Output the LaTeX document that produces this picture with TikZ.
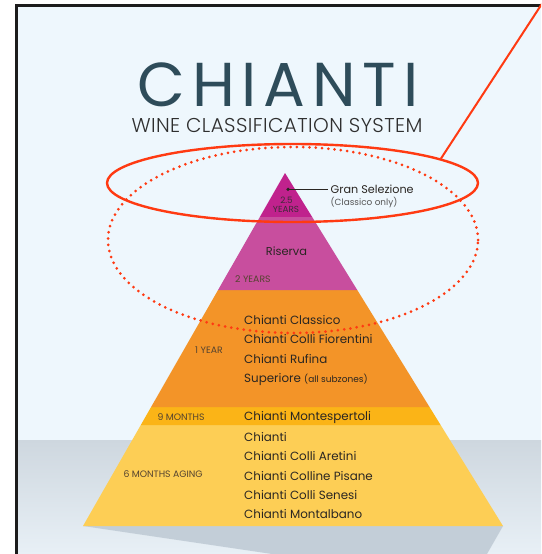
\documentclass[tikz,border=0pt]{standalone}
\usepackage{fontspec}
\setmainfont{Poppins}
\newfontfamily\poplight{Poppins Light}
\usetikzlibrary{calc}
\definecolor{bgblue}{HTML}{EEF7FD}
\definecolor{frame}{HTML}{1C1C1C}
\definecolor{titlecol}{HTML}{2E4C5A}
\definecolor{subcol}{HTML}{2F2F2F}
\definecolor{magdark}{HTML}{C0228D}
\definecolor{maglight}{HTML}{C84E9E}
\definecolor{orangec}{HTML}{F39428}
\definecolor{amber}{HTML}{FBB417}
\definecolor{yellowc}{HTML}{FDCE55}
\definecolor{graytop}{HTML}{CED7DF}
\definecolor{graybot}{HTML}{E8F0F6}
\definecolor{shadowc}{HTML}{C3CED8}
\definecolor{itemcol}{HTML}{2A2622}
\definecolor{agecol}{HTML}{54432F}
\definecolor{topcol}{HTML}{3E2A38}
\definecolor{notecol}{HTML}{555555}
\definecolor{redc}{HTML}{FF3A12}
\tikzset{
  item/.style={anchor=base west, inner sep=0pt, text=itemcol, font=\fontsize{11.9}{12}\selectfont},
  agelab/.style={anchor=base west, inner sep=0pt, text=agecol, font=\fontsize{9.3}{9}\selectfont},
  centerlab/.style={anchor=base, inner sep=0pt, text=itemcol},
  redsolid/.style={draw=redc, line width=2.4pt},
  reddots/.style={draw=redc, line width=3pt, line cap=round, dash pattern=on 0pt off 6.3pt},
}
\begin{document}
\begin{tikzpicture}[x=1pt,y=-1pt]
\useasboundingbox (0,0) rectangle (541,554);
\clip (0,0) rectangle (541,554);
% background
\fill[white] (0,0) rectangle (541,554);
\fill[bgblue] (18,7) rectangle (541,554);
\shade[top color=graytop, bottom color=graybot] (18,440) rectangle (541,554);
% frame
\draw[frame, line width=3pt] (16.5,554) -- (16.5,5.5) -- (541,5.5);
% shadow
\fill[shadowc] (83,526) -- (503,526) -- (487,554) -- (272,554) -- cycle;
% pyramid bands: apex (285,173), base (83,526)-(503,526)
\coordinate (apex) at (285,173);
\coordinate (bl) at (83,526);
\coordinate (br) at (503,526);
\fill[yellowc] ($(apex)!{(425-173)/353}!(bl)$) -- ($(apex)!{(425-173)/353}!(br)$) -- (br) -- (bl) -- cycle;
\fill[amber] ($(apex)!{(407-173)/353}!(bl)$) -- ($(apex)!{(407-173)/353}!(br)$) -- ($(apex)!{(425-173)/353}!(br)$) -- ($(apex)!{(425-173)/353}!(bl)$) -- cycle;
\fill[orangec] ($(apex)!{(290-173)/353}!(bl)$) -- ($(apex)!{(290-173)/353}!(br)$) -- ($(apex)!{(407-173)/353}!(br)$) -- ($(apex)!{(407-173)/353}!(bl)$) -- cycle;
\fill[maglight] ($(apex)!{(217-173)/353}!(bl)$) -- ($(apex)!{(217-173)/353}!(br)$) -- ($(apex)!{(290-173)/353}!(br)$) -- ($(apex)!{(290-173)/353}!(bl)$) -- cycle;
\fill[magdark] (apex) -- ($(apex)!{(217-173)/353}!(br)$) -- ($(apex)!{(217-173)/353}!(bl)$) -- cycle;
% title
\node[anchor=base, inner sep=0pt, text=titlecol, font=\fontsize{62}{62}\selectfont\addfontfeature{LetterSpace=11}] (title) at (278,106) {CHIANTI};
\node[anchor=base, inner sep=0pt, text=subcol, font=\poplight\fontsize{20}{20}\selectfont\addfontfeature{LetterSpace=2}] (subtitle) at (277,132) {WINE CLASSIFICATION SYSTEM};
% top tier
\coordinate (dot) at (288,189.3);
\fill[itemcol] (dot) circle (1.8pt);
\node[anchor=base west, inner sep=0pt, text=itemcol, font=\fontsize{11.2}{12}\selectfont] (gs) at (330.5,193.4) {Gran Selezione};
\draw[itemcol, line width=0.8pt] (dot) -- ([xshift=-3pt]gs.west |- dot);
\node[anchor=base west, inner sep=0pt, text=notecol, font=\fontsize{8.9}{9}\selectfont] (gsnote) at (330.5,205.2) {(Classico only)};
\node[centerlab, text=topcol, font=\fontsize{8.8}{8}\selectfont] (y25) at (286.5,203.2) {2.5};
\node[centerlab, text=topcol, font=\fontsize{8.8}{8}\selectfont] (years) at (286,212.6) {YEARS};
% riserva
\node[centerlab, font=\fontsize{11.4}{12}\selectfont] (riserva) at (286.5,255) {Riserva};
\node[agelab] (y2) at (235,282.6) {2 YEARS};
% 1 year
\node[agelab] (y1) at (195,353.6) {1 YEAR};
\node[item] (c1) at (244,324.4) {Chianti Classico};
\node[item] (c2) at (244,343.7) {Chianti Colli Fiorentini};
\node[item] (c3) at (244,363) {Chianti Rufina};
\node[item] (c4) at (244,382.3) {Superiore \fontsize{9}{9}\selectfont(all subzones)};
% 9 months
\node[agelab] (m9) at (157.3,420.3) {9 MONTHS};
\node[item] (c5) at (244,420.8) {Chianti Montespertoli};
% 6 months
\node[agelab] (m6) at (123.3,477.6) {6 MONTHS AGING};
\node[item] (c6) at (244,441.3) {Chianti};
\node[item] (c7) at (244,460.7) {Chianti Colli Aretini};
\node[item] (c8) at (244,480) {Chianti Colline Pisane};
\node[item] (c9) at (244,499.3) {Chianti Colli Senesi};
\node[item] (c10) at (244,518.6) {Chianti Montalbano};
% red highlight
\draw[reddots] (293,240) ellipse [x radius=185pt, y radius=93pt];
\draw[redsolid] (292.5,183) ellipse [x radius=185.5pt, y radius=39pt];
\coordinate (lstart) at (441,158.5);
\coordinate (lend) at (547,-4);
\draw[redc, line width=2pt] (lstart) -- (lend);
\end{tikzpicture}
\end{document}
